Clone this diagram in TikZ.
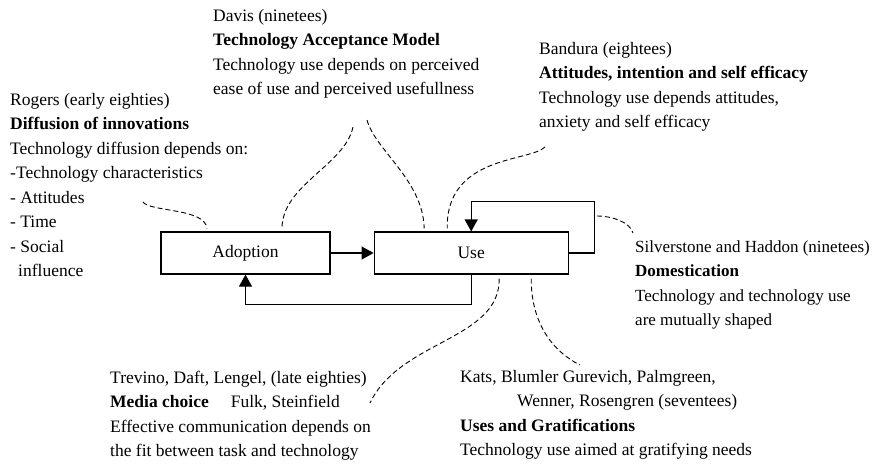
\documentclass[tikz,border=0pt]{standalone}
\usepackage{fontspec}
\setmainfont{Liberation Serif}
\usetikzlibrary{arrows.meta,positioning,calc}

\begin{document}
\begin{tikzpicture}[
    x=1pt, y=-1pt,
    node distance=43pt,
    box/.style={rectangle, draw, line width=1.2pt, minimum height=42pt, inner sep=0pt, font=\fontsize{17.5}{21}\selectfont},
    note/.style={anchor=base west, align=left, inner sep=0pt, font=\fontsize{17.5}{24.5}\selectfont},
    arr/.style={-{Triangle[length=12pt, width=13pt]}, line width=1.2pt},
    link/.style={dash pattern=on 5pt off 3pt, line width=0.9pt}
]
    \useasboundingbox (0,0) rectangle (872,467);

    \node [box, minimum width=169pt] (adopt) at (245.5,253) {Adoption};
    \node [box, minimum width=194pt, right=of adopt] (use) {Use};

    \draw [arr] (adopt) -- (use);
    \draw [arr] (use.south) -- ++(0,30) -| (adopt.south);
    \draw [arr] (use.east) -- ++(26,0) |- ([yshift=30pt]use.north) -- (use.north);

    \node [note] (rogers) at (10,276.5) {Rogers (early eighties)\\ \textbf{Diffusion of innovations}\\ Technology diffusion depends on:\\ -Technology characteristics\\ - Attitudes\\ - Time\\ - Social\\ \hspace*{8pt}influence};
    \node [note] (davis) at (213,94.5) {Davis (ninetees)\\ \textbf{Technology Acceptance Model}\\ Technology use depends on perceived\\ ease of use and perceived usefullness};
    \node [note] (bandura) at (539,127.5) {Bandura (eightees)\\ \textbf{Attitudes, intention and self efficacy}\\ Technology use depends attitudes,\\ anxiety and self efficacy};
    \node [note, font=\fontsize{17}{24.5}\selectfont] (silver) at (635,325.5) {Silverstone and Haddon (ninetees)\\ \textbf{Domestication}\\ Technology and technology use\\ are mutually shaped};
    \node [note] (trevino) at (110,456.5) {Trevino, Daft, Lengel, (late eighties)\\ \textbf{Media choice}\hspace{22pt}Fulk, Steinfield\\ Effective communication depends on\\ the fit between task and technology};
    \node [note] (kats) at (460,455.5) {Kats, Blumler Gurevich, Palmgreen,\\ \hspace*{57pt}Wenner, Rosengren (seventees)\\ \textbf{Uses and Gratifications}\\ Technology use aimed at gratifying needs};

    \coordinate (rogE) at (143,202);
    \coordinate (davL) at (353,127);
    \coordinate (davR) at (367,120);
    \coordinate (banE) at (545,147);
    \coordinate (silS) at (597,216);
    \coordinate (silE) at (633,233);
    \coordinate (medE) at (370,403);
    \coordinate (ugE) at (580,365);

    \draw [link] (rogE) .. controls (150,212) and (205,208) .. ([shift={(-38.5,-3)}]adopt.north);
    \draw [link] (davL) .. controls (345,165) and (282,185) .. ([shift={(36.5,-3)}]adopt.north);
    \draw [link] (davR) .. controls (375,150) and (423,180) .. ([shift={(-47,-3)}]use.north);
    \draw [link] (banE) .. controls (530,162) and (446,155) .. ([shift={(-24,-3)}]use.north);
    \draw [link] (silS) .. controls (612,216) and (630,222) .. (silE);
    \draw [link] ([shift={(28,4)}]use.south) .. controls (500,340) and (400,340) .. (medE);
    \draw [link] ([shift={(60,4)}]use.south) .. controls (531,320) and (550,350) .. (ugE);
\end{tikzpicture}
\end{document}
